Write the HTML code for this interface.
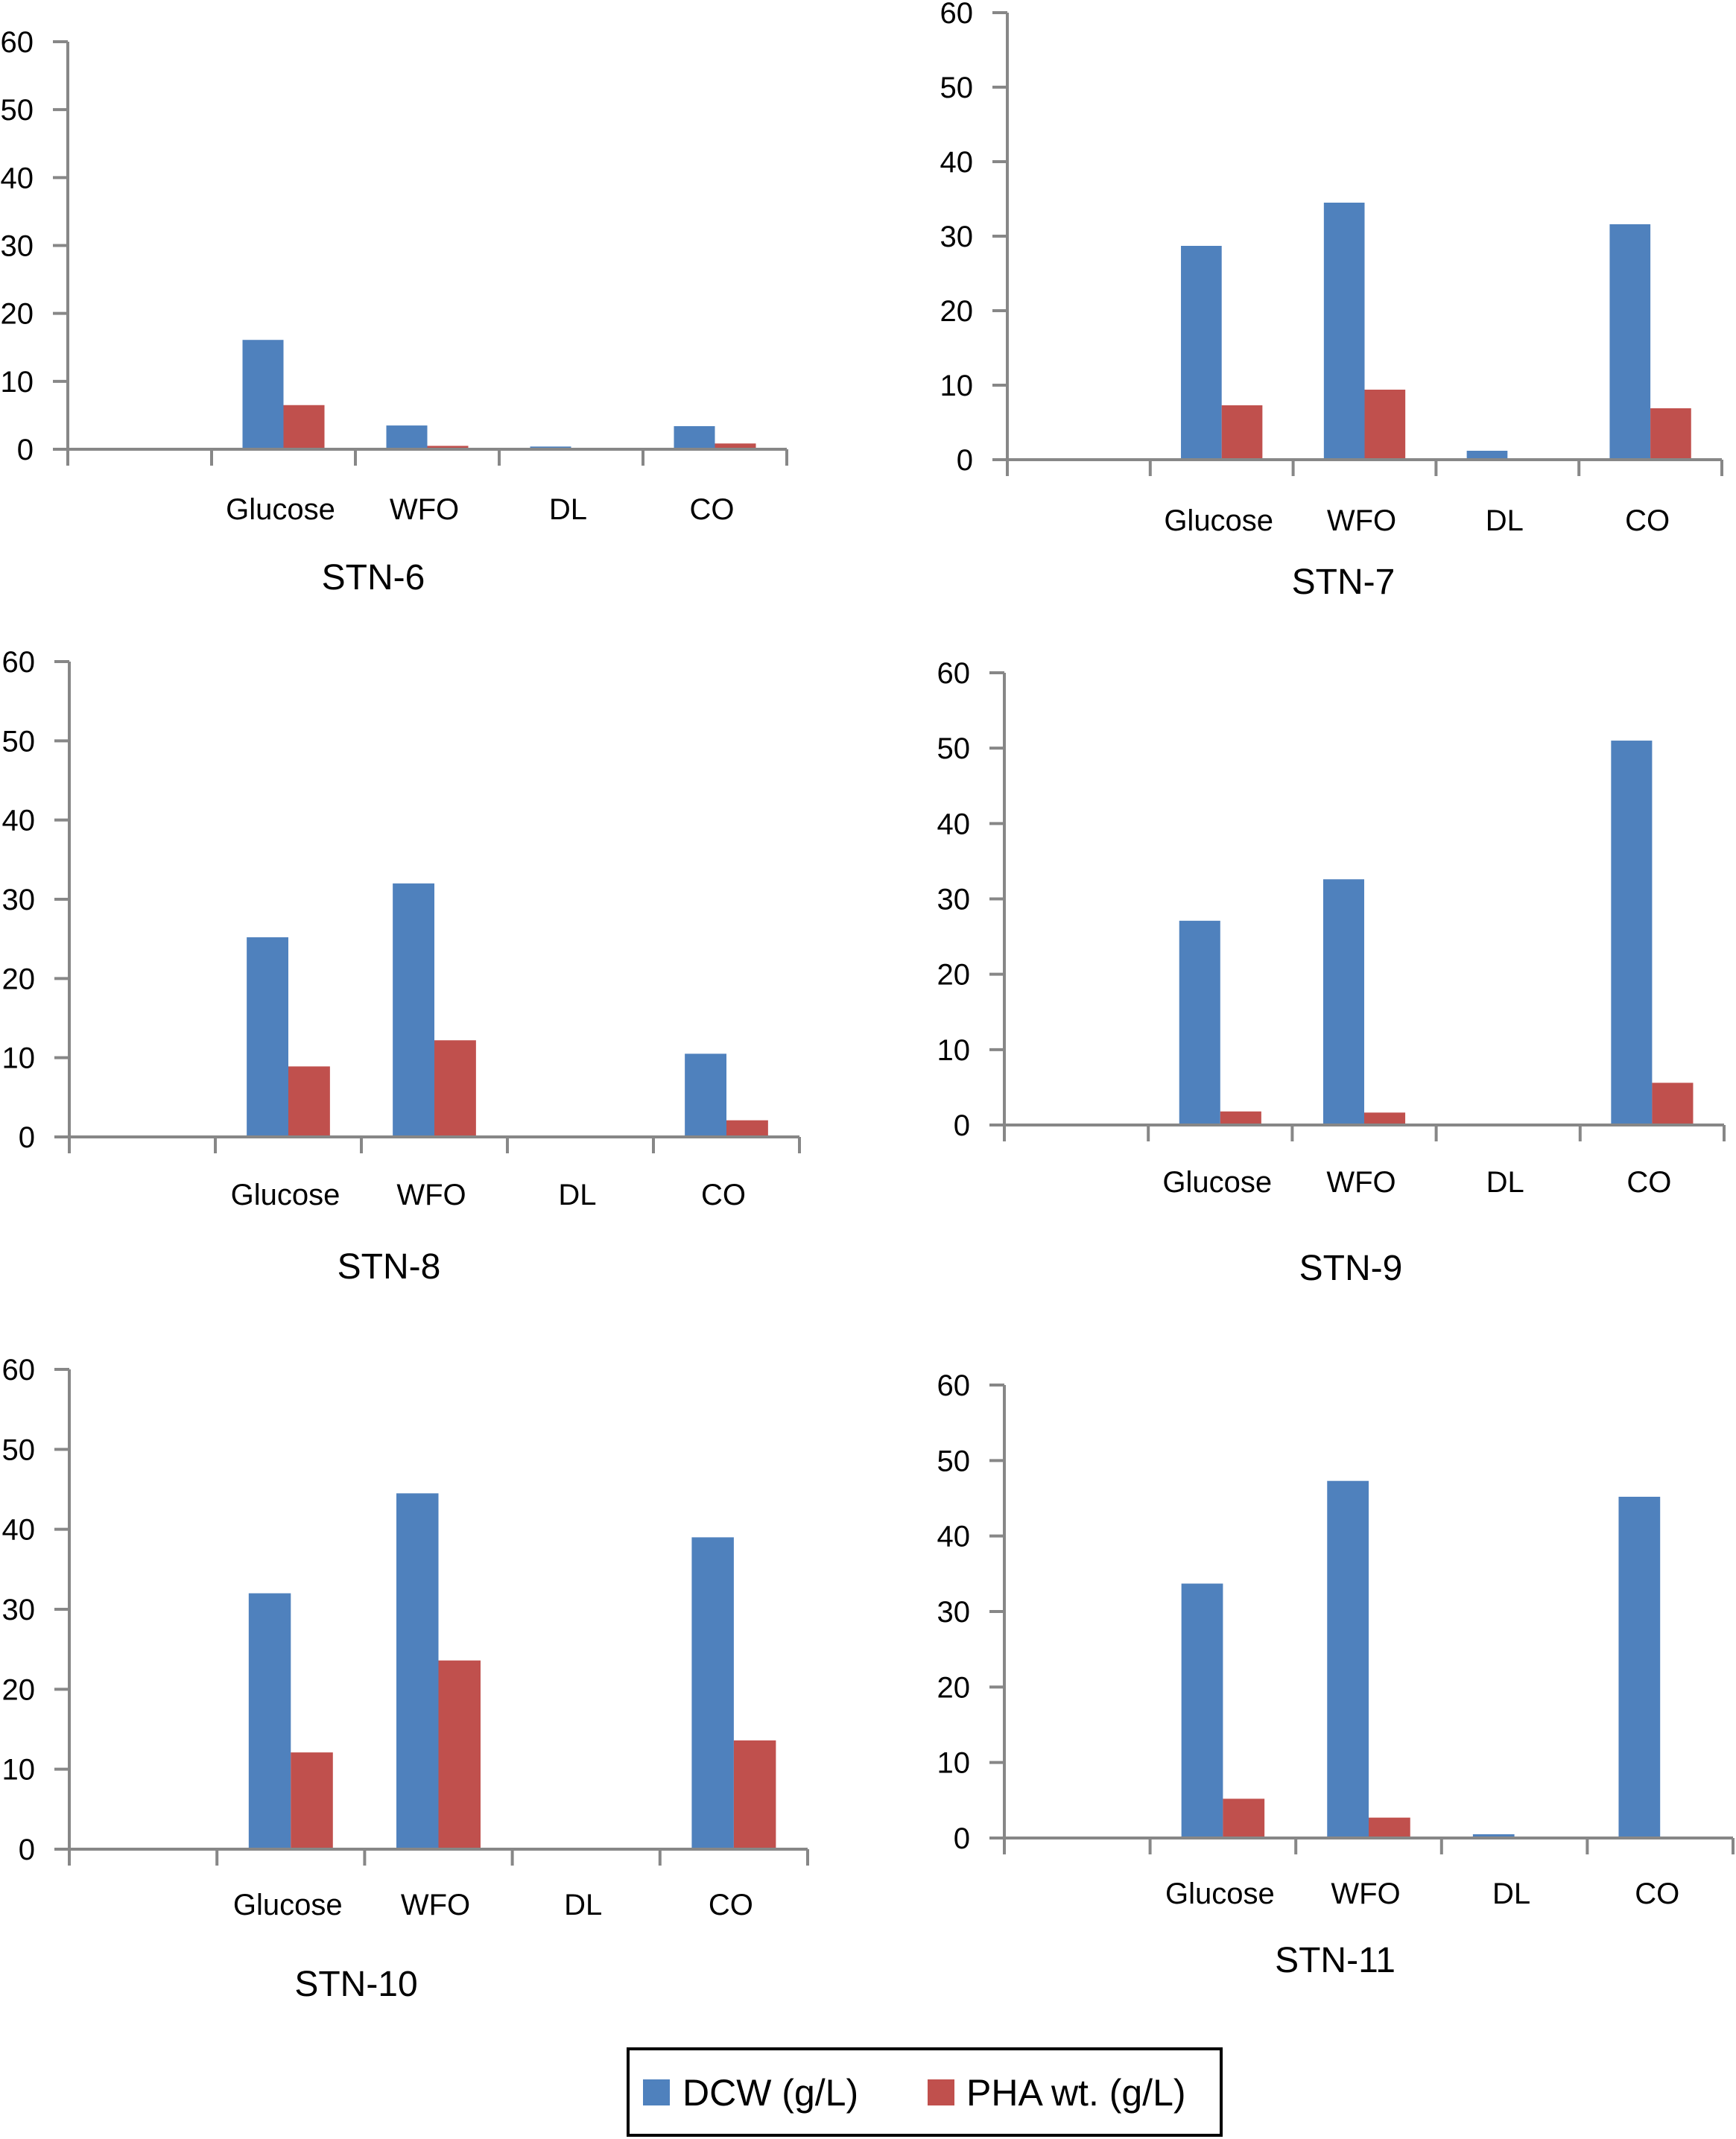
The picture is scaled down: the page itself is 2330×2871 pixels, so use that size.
<!DOCTYPE html>
<html><head><meta charset="utf-8"><style>
html,body{margin:0;padding:0;background:#fff;}
svg{display:block;font-family:"Liberation Sans",Arial,sans-serif;}
</style></head><body>
<svg id="fig" width="2330" height="2871" viewBox="0 0 2330 2871" xmlns="http://www.w3.org/2000/svg">
<g>
<rect x="843" y="2750" width="796" height="116" fill="#fff" stroke="#000" stroke-width="4"/>
<rect x="863" y="2791" width="36" height="35" fill="#4F81BD"/>
<text x="916" y="2826" font-size="50">DCW (g/L)</text>
<rect x="1245" y="2791" width="36" height="35" fill="#C0504D"/>
<text x="1297" y="2826" font-size="50">PHA wt. (g/L)</text>
</g>
</svg>
<script>
const categories = ["", "Glucose", "WFO", "DL", "CO"];
const yTicks = [0, 10, 20, 30, 40, 50, 60];
const titles = ["STN-6", "STN-7", "STN-8", "STN-9", "STN-10", "STN-11"];
const dcw6 = [0, 16.1, 3.5, 0.4, 3.4];
const pha6 = [0, 6.5, 0.5, 0, 0.85];
const dcw7 = [0, 28.7, 34.5, 1.2, 31.6];
const pha7 = [0, 7.3, 9.4, 0, 6.9];
const dcw8 = [0, 25.2, 32.0, 0, 10.5];
const pha8 = [0, 8.9, 12.2, 0, 2.1];
const dcw9 = [0, 27.1, 32.6, 0.2, 51.0];
const pha9 = [0, 1.8, 1.65, 0, 5.6];
const dcw10 = [0, 32.0, 44.5, 0, 39.0];
const pha10 = [0, 12.1, 23.6, 0, 13.6];
const dcw11 = [0, 33.7, 47.3, 0.5, 45.2];
const pha11 = [0, 5.2, 2.7, 0, 0];
const dcwSeries = [dcw6, dcw7, dcw8, dcw9, dcw10, dcw11];
const phaSeries = [pha6, pha7, pha8, pha9, pha10, pha11];

// layout (pixel geometry, not data)
const layouts = [
 {l:91, r:1056, top:56, bot:603, lab:697, tit:791, tx:501},
 {l:1352, r:2311, top:17, bot:617, lab:712, tit:797, tx:1803},
 {l:93, r:1073, top:888, bot:1526, lab:1617, tit:1716, tx:522},
 {l:1348, r:2314, top:903, bot:1510, lab:1600, tit:1718, tx:1813},
 {l:93, r:1084, top:1838, bot:2482, lab:2570, tit:2679, tx:478},
 {l:1348, r:2326, top:1859, bot:2467, lab:2555, tit:2647, tx:1792}
];
const NS = "http://www.w3.org/2000/svg";
const svg = document.getElementById("fig");
function mk(tag, attrs, parent){
  const e = document.createElementNS(NS, tag);
  for (const k in attrs) e.setAttribute(k, attrs[k]);
  parent.appendChild(e);
  return e;
}
const AX = "#878787";
layouts.forEach((L, i) => {
  const g = mk("g", {}, svg);
  
  
  const yMax = 60;
  const yScale = v => L.bot - (v / yMax) * (L.bot - L.top);
  const cw = (L.r - L.l) / categories.length;
  const bw = cw * 0.285;
  const xCat = k => L.l + k * cw;
  // y axis
  const ya = mk("line", {x1:L.l, y1:L.top, x2:L.l, y2:L.bot + 22, stroke:AX, "stroke-width":4}, g);
  
  
  yTicks.forEach(t => {
    const y = yScale(t);
    const tk = mk("line", {x1:L.l - 20, y1:y, x2:L.l, y2:y, stroke:AX, "stroke-width":4}, g);
    
    
    const tl = mk("text", {x:L.l - 46, y:y + 14, "font-size":40, "text-anchor":"end", fill:"#000"}, g);
    tl.textContent = t;
    
    
  });
  // bars
  categories.forEach((c, k) => {
    const x0 = xCat(k) + (cw - 2 * bw) / 2;
    const dv = dcwSeries[i][k], pv = phaSeries[i][k];
    if (dv > 0) {
      const b = mk("rect", {x:x0, y:yScale(dv), width:bw, height:L.bot - yScale(dv), fill:"#4F81BD"}, g);
      
      
    }
    if (pv > 0) {
      const b = mk("rect", {x:x0 + bw, y:yScale(pv), width:bw, height:L.bot - yScale(pv), fill:"#C0504D"}, g);
      
      
    }
    if (c) {
      const lb = mk("text", {x:xCat(k) + cw / 2 - 4, y:L.lab, "font-size":40, "text-anchor":"middle", fill:"#000"}, g);
      lb.textContent = c;
      
      
    }
  });
  // x axis
  const xa = mk("line", {x1:L.l - 20, y1:L.bot, x2:L.r, y2:L.bot, stroke:AX, "stroke-width":4}, g);
  
  
  for (let k = 0; k <= categories.length; k++) {
    const tk = mk("line", {x1:xCat(k), y1:L.bot, x2:xCat(k), y2:L.bot + 22, stroke:AX, "stroke-width":4}, g);
    
    
  }
  const tt = mk("text", {x:L.tx, y:L.tit, "font-size":48, "text-anchor":"middle", fill:"#000"}, g);
  tt.textContent = titles[i];
  
  
});
</script>
</body></html>
